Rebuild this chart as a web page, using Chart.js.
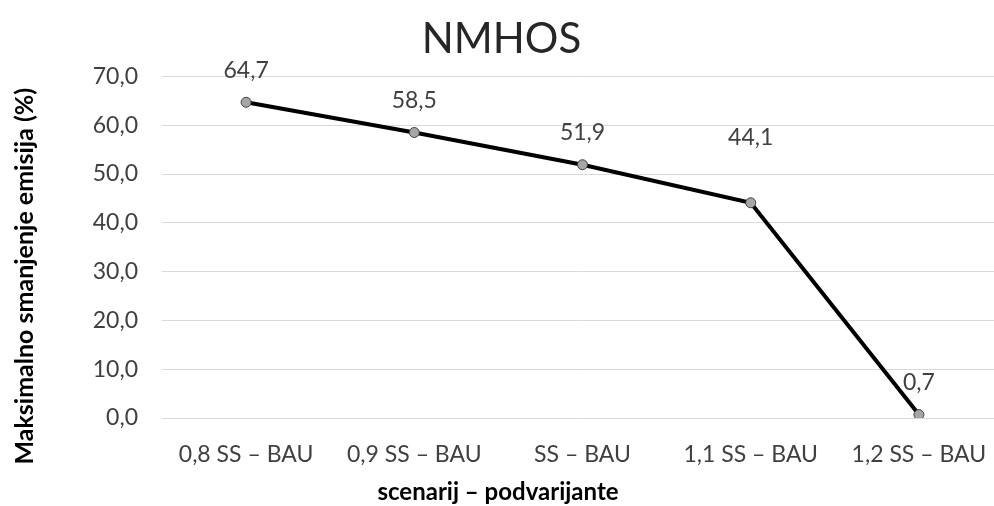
<!DOCTYPE html>
<html>
<head>
<meta charset="utf-8">
<script src="https://cdn.jsdelivr.net/npm/chart.js@4"></script>
<style>
  html, body { margin: 0; padding: 0; background: #fff; overflow: hidden; }
  #wrap { width: 1010px; height: 506px; position: relative; }
</style>
</head>
<body>
<div id="wrap"><canvas id="lineChart"></canvas></div>
<script>
// NMHOS – maksimalno smanjenje emisija po podvarijantama scenarija
const categories = ['0,8 SS – BAU', '0,9 SS – BAU', 'SS – BAU', '1,1 SS – BAU', '1,2 SS – BAU'];
const reductionValues = [64.7, 58.5, 51.9, 44.1, 0.7];
const yTicks = [0, 10, 20, 30, 40, 50, 60, 70];
const yTitle = 'Maksimalno smanjenje emisija (%)';
const xTitle = 'scenarij – podvarijante';

const fontFamily = 'Lato, "Open Sans", sans-serif';
const fmt = v => v.toFixed(1).replace('.', ',');

// natpisi vrijednosti iznad točaka
const valueLabels = {
    id: 'valueLabels',
    afterDatasetsDraw(chart) {
        const ctx = chart.ctx;
        const meta = chart.getDatasetMeta(0);
        ctx.save();
        ctx.font = '23px ' + fontFamily;
        ctx.fillStyle = '#404040';
        ctx.textAlign = 'center';
        ctx.textBaseline = 'middle';
        meta.data.forEach((pt, i) => {
            const lift = i === 3 ? 65 : 32;
            ctx.fillText(fmt(reductionValues[i]), pt.x, pt.y - lift);
        });
        ctx.restore();
    }
};

// naslovi osi, centrirani uz cijelo područje grafikona
const axisTitles = {
    id: 'axisTitles',
    afterDraw(chart) {
        const ctx = chart.ctx;
        ctx.save();
        ctx.fillStyle = '#000';
        ctx.textAlign = 'center';
        ctx.textBaseline = 'middle';
        ctx.font = 'bold 24px ' + fontFamily;
        ctx.fillText(xTitle, 498, chart.height - 14);
        ctx.font = 'bold 25px ' + fontFamily;
        ctx.translate(25, (chart.chartArea.top + chart.height - 30) / 2);
        ctx.rotate(-Math.PI / 2);
        ctx.fillText(yTitle, 0, 0);
        ctx.restore();
    }
};

const ctx = document.getElementById('lineChart').getContext('2d');
new Chart(ctx, {
    type: 'line',
    data: {
        labels: categories,
        datasets: [{
            data: reductionValues,
            borderColor: '#000',
            borderWidth: 4,
            pointRadius: 5,
            pointBackgroundColor: '#a6a6a6',
            pointBorderColor: '#404040',
            pointBorderWidth: 1,
            tension: 0
        }]
    },
    options: {
        responsive: true,
        maintainAspectRatio: false,
        animation: false,
        layout: { padding: { top: 1, right: 7, left: 0, bottom: 0 } },
        plugins: {
            legend: { display: false },
            tooltip: { enabled: false },
            title: {
                display: true,
                text: 'NMHOS',
                color: '#262626',
                font: { family: fontFamily, size: 42, weight: 'normal' },
                padding: { top: 13, bottom: 12 }
            }
        },
        scales: {
            x: {
                offset: true,
                grid: { display: false, drawTicks: false },
                border: { display: false },
                ticks: {
                    color: '#404040',
                    font: { family: fontFamily, size: 23 },
                    padding: 23,
                    maxRotation: 0
                },
                afterFit(scale) { scale.height = 88; }
            },
            y: {
                min: 0,
                max: 70,
                afterBuildTicks(scale) { scale.ticks = yTicks.map(v => ({ value: v })); },
                grid: { color: '#d9d9d9', lineWidth: 1, drawTicks: false },
                border: { display: false },
                ticks: {
                    color: '#404040',
                    font: { family: fontFamily, size: 23 },
                    padding: 24,
                    callback: v => fmt(v)
                },
                afterFit(scale) { scale.width = 162; }
            }
        }
    },
    plugins: [valueLabels, axisTitles]
});
</script>
</body>
</html>
